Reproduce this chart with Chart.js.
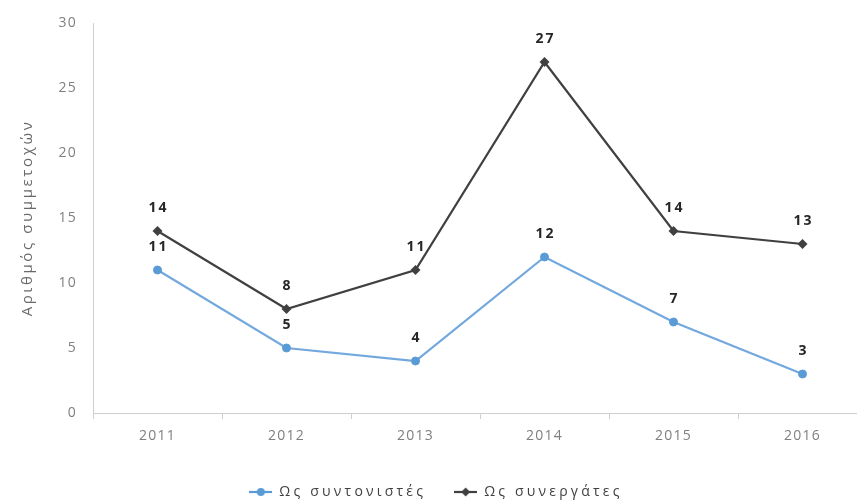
<!DOCTYPE html>
<html>
<head>
<meta charset="utf-8">
<script src="https://cdn.jsdelivr.net/npm/chart.js@4.4.0/dist/chart.umd.min.js"></script>
<style>
  html, body { margin: 0; padding: 0; background: #fff; overflow: hidden; }
  #wrap { width: 872px; height: 503px; }
</style>
</head>
<body>
<div id="wrap"><canvas id="chart"></canvas></div>
<script>
const years = ["2011", "2012", "2013", "2014", "2015", "2016"];
const coordinators = [11, 5, 4, 12, 7, 3];
const partners = [14, 8, 11, 27, 14, 13];
const yTicks = { min: 0, max: 30, step: 5 };

const blueLine = "#72a8dd";
const bluePoint = "#5b9bd5";
const dark = "#404040";
const font = "'Open Sans', sans-serif";

// small line+marker icon for the legend, like the Excel one
function legendIcon(color, style) {
  const c = document.createElement("canvas");
  c.width = 23; c.height = 12;
  const g = c.getContext("2d");
  g.strokeStyle = color; g.fillStyle = color; g.lineWidth = 2.2;
  g.beginPath(); g.moveTo(0, 6); g.lineTo(23, 6); g.stroke();
  g.beginPath();
  if (style === "circle") {
    g.arc(11.5, 6, 4, 0, Math.PI * 2);
  } else {
    g.moveTo(11.5, 1.5); g.lineTo(16, 6); g.lineTo(11.5, 10.5); g.lineTo(7, 6); g.closePath();
  }
  g.fill();
  return c;
}

// wrap a method so its text uses a given letter spacing
function withSpacing(obj, name, ctx, sp) {
  const orig = obj[name];
  obj[name] = function () {
    const prev = ctx.letterSpacing;
    ctx.letterSpacing = sp;
    const r = orig.apply(this, arguments);
    ctx.letterSpacing = prev;
    return r;
  };
}

const textSpacing = {
  id: "textSpacing",
  afterInit(chart) {
    withSpacing(chart.legend, "fit", chart.ctx, "3.2px");
    withSpacing(chart.legend, "draw", chart.ctx, "3.2px");
  },
  beforeDraw(chart) {
    chart.ctx.letterSpacing = "1.2px";
  }
};

const valueLabels = {
  id: "valueLabels",
  afterDatasetsDraw(chart) {
    const ctx = chart.ctx;
    ctx.save();
    ctx.letterSpacing = "2px";
    ctx.font = "bold 14px " + font;
    ctx.fillStyle = "#262626";
    ctx.textAlign = "center";
    ctx.textBaseline = "middle";
    chart.data.datasets.forEach((ds, i) => {
      chart.getDatasetMeta(i).data.forEach((pt, j) => {
        ctx.fillText(ds.data[j], pt.x + 1, pt.y - 23);
      });
    });
    ctx.restore();
  }
};

new Chart(document.getElementById("chart"), {
  type: "line",
  data: {
    labels: years,
    datasets: [
      {
        label: "Ως συντονιστές",
        data: coordinators,
        borderColor: blueLine,
        backgroundColor: bluePoint,
        pointBorderColor: bluePoint,
        borderWidth: 2.2,
        pointStyle: "circle",
        pointRadius: 4,
        pointBorderWidth: 1,
        pointHoverRadius: 4,
        tension: 0
      },
      {
        label: "Ως συνεργάτες",
        data: partners,
        borderColor: dark,
        backgroundColor: dark,
        borderWidth: 2.2,
        pointStyle: "rectRot",
        pointRadius: 5,
        pointBorderWidth: 0,
        pointHoverRadius: 5,
        tension: 0
      }
    ]
  },
  options: {
    responsive: true,
    maintainAspectRatio: false,
    animation: false,
    layout: { padding: { top: 23, right: 0, bottom: -6, left: 0 } },
    plugins: {
      tooltip: { enabled: false },
      legend: {
        position: "bottom",
        labels: {
          usePointStyle: true,
          pointStyleWidth: 23,
          padding: 28,
          color: "#404040",
          font: { family: font, size: 14 },
          generateLabels(chart) {
            return chart.data.datasets.map((ds, i) => ({
              text: ds.label,
              pointStyle: legendIcon(ds.backgroundColor, ds.pointStyle),
              fillStyle: ds.backgroundColor,
              strokeStyle: ds.backgroundColor,
              lineWidth: 0,
              fontColor: "#404040",
              hidden: false,
              datasetIndex: i
            }));
          }
        }
      }
    },
    scales: {
      x: {
        offset: true,
        afterFit(scale) { scale.height = 44; },
        grid: { offset: true, drawOnChartArea: false, drawTicks: true, tickLength: 6, color: "#cfcfcf" },
        border: { color: "#cfcfcf" },
        ticks: { color: "#7f7f7f", padding: 9, font: { family: font, size: 14 } }
      },
      y: {
        min: yTicks.min,
        max: yTicks.max,
        afterFit(scale) {
          scale.width = 93;
          if (!scale._spaced) {
            withSpacing(scale, "drawTitle", scale.ctx, "2.6px");
            scale._spaced = true;
          }
        },
        grid: { display: false },
        border: { color: "#cfcfcf" },
        ticks: { stepSize: yTicks.step, color: "#7f7f7f", padding: 8, font: { family: font, size: 14 } },
        title: {
          display: true,
          text: "Αριθμός συμμετοχών",
          color: "#6a6a6a",
          padding: { top: 19, bottom: 0 },
          font: { family: font, size: 15 }
        }
      }
    }
  },
  plugins: [textSpacing, valueLabels]
});
</script>
</body>
</html>
